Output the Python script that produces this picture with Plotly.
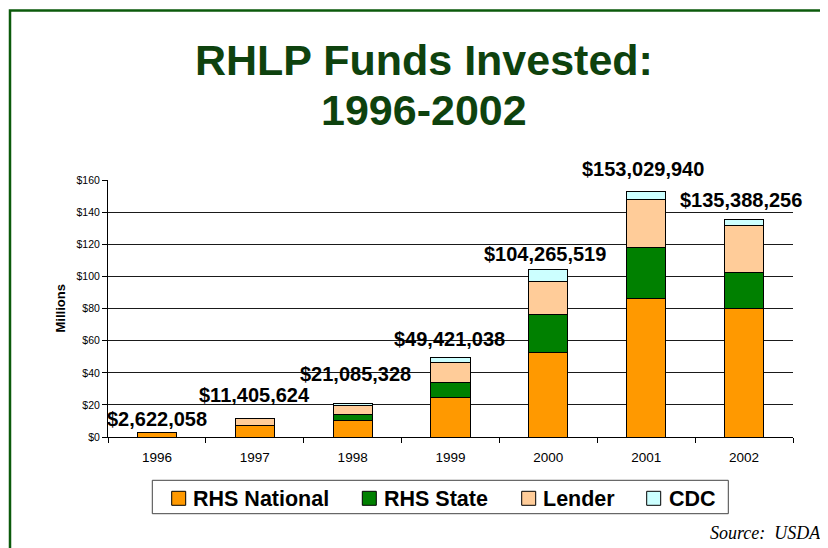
import plotly.graph_objects as go

years = ["1996", "1997", "1998", "1999", "2000", "2001", "2002"]
rhs_national = [2.6, 7.0, 10.4, 24.7, 52.4, 86.4, 80.1]
rhs_state = [0.0, 0.0, 3.5, 9.5, 24.2, 31.7, 22.2]
lender = [0.0, 4.4, 5.8, 12.3, 20.5, 29.9, 29.3]
cdc = [0.0, 0.0, 1.4, 2.9, 7.2, 5.0, 3.8]
total_labels = ["$2,622,058", "$11,405,624", "$21,085,328", "$49,421,038",
                "$104,265,519", "$153,029,940", "$135,388,256"]
y_ticks = [0, 20, 40, 60, 80, 100, 120, 140, 160]
y_tick_labels = ["$0", "$20", "$40", "$60", "$80", "$100", "$120", "$140", "$160"]
title_lines = ["RHLP Funds Invested:", "1996-2002"]

series = [
    ("RHS National", rhs_national, "#FF9900"),
    ("RHS State", rhs_state, "#008000"),
    ("Lender", lender, "#FFCC99"),
    ("CDC", cdc, "#CCFFFF"),
]

# page body has an 8px margin, so the figure starts at (8, 8) in the window
OFF = 8
W, H = 820, 540
L, R, T, B = 100, 35, 172, 111
pw, ph = W - L - R, H - T - B


def px(sx):
    return (sx - OFF - L) / pw


def py(sy):
    return (H - B - (sy - OFF)) / ph


FONT = "Arial, Liberation Sans"

fig = go.Figure()
for name, vals, color in series:
    fig.add_trace(go.Bar(
        x=years, y=vals, name=name,
        marker=dict(color=color, line=dict(color="#000000", width=1)),
        width=0.4, showlegend=False,
    ))

totals = [a + b + c + d for a, b, c, d in zip(rhs_national, rhs_state, lender, cdc)]
label_gap = [1, 11, 16, 6, 3, 10, 7]
label_dx = [0, 0, 3, -1, -3, -3, -3]
for i, (tot, lab, g, dx) in enumerate(zip(totals, total_labels, label_gap, label_dx)):
    fig.add_annotation(x=i, y=tot, text=lab, showarrow=False,
                       yanchor="bottom", yshift=g, xshift=dx,
                       font=dict(family=FONT, size=20, color="#000000", weight="bold"))

for line, cy in zip(title_lines, [60, 110]):
    fig.add_annotation(x=px(424), y=py(cy), xref="paper", yref="paper",
                       text=line, showarrow=False,
                       xanchor="center", yanchor="middle",
                       font=dict(family=FONT, size=43, color="#0E420E", weight="bold"))

fig.add_annotation(x=px(823), y=py(533), xref="paper", yref="paper",
                   text="<i>Source:  USDA</i>", showarrow=False,
                   xanchor="right", yanchor="middle",
                   font=dict(family="Liberation Serif, Times New Roman", size=18, color="#000000"))

fig.add_annotation(x=px(60), y=0.5, xref="paper", yref="paper",
                   text="Millions", showarrow=False, textangle=-90,
                   xanchor="center", yanchor="middle",
                   font=dict(family=FONT, size=13, color="#000000", weight="bold"))

# legend box drawn by hand to match the original layout
fig.add_shape(type="rect", xref="paper", yref="paper",
              x0=px(152.3), x1=px(728.3), y0=py(480.3), y1=py(513.7),
              line=dict(color="#444444", width=1), fillcolor="white")
sq_x = [171.7, 362.3, 521.7, 646.7]
txt_x = [191, 382.3, 541, 666.7]
for (name, _, color), sx, tx in zip(series, sq_x, txt_x):
    fig.add_shape(type="rect", xref="paper", yref="paper",
                  x0=px(sx), x1=px(sx + 14), y0=py(491.3), y1=py(505.3),
                  line=dict(color="#000000", width=1), fillcolor=color)
    fig.add_annotation(x=px(tx), y=py(498.5), xref="paper", yref="paper",
                       text=name, showarrow=False, xanchor="left", yanchor="middle",
                       font=dict(family=FONT, size=21.5, color="#000000", weight="bold"))

# outer green frame
fig.add_shape(type="rect", xref="paper", yref="paper",
              x0=px(10), x1=px(860), y0=py(10.5), y1=py(580),
              line=dict(color="#0B5A0B", width=2.5), layer="below")

fig.update_layout(
    width=W, height=H,
    margin=dict(l=L, r=R, t=T, b=B, autoexpand=False),
    paper_bgcolor="white", plot_bgcolor="white",
    barmode="stack", bargap=0.6,
    showlegend=False,
    xaxis=dict(type="category", range=[-0.5, 6.5], showline=True, linecolor="#000000", linewidth=1,
               ticks="outside", ticklen=5, tickcolor="#000000", tickson="boundaries",
               ticklabelstandoff=8,
               tickfont=dict(family=FONT, size=13.5, color="#000000"),
               showgrid=False),
    yaxis=dict(range=[0, 160.2], tickvals=y_ticks, ticktext=y_tick_labels,
               showline=True, linecolor="#000000", linewidth=1,
               ticks="outside", ticklen=5, tickcolor="#000000",
               tickfont=dict(family=FONT, size=10.5, color="#000000"),
               showgrid=True, gridcolor="#1a1a1a", gridwidth=1, zeroline=False),
)

fig.write_html("out.html")
